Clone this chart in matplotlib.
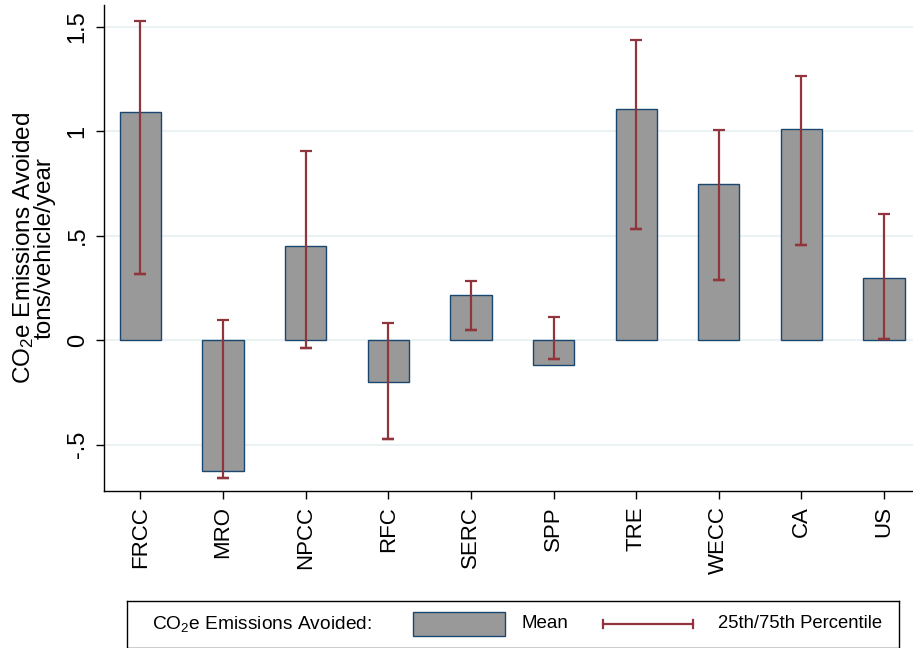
import matplotlib
matplotlib.use("Agg")
import matplotlib.pyplot as plt
from matplotlib.patches import Rectangle
from matplotlib.lines import Line2D

plt.rcParams['font.family'] = ['Liberation Sans', 'DejaVu Sans']
plt.rcParams['mathtext.fontset'] = 'custom'
plt.rcParams['mathtext.rm'] = 'Liberation Sans'
plt.rcParams['mathtext.it'] = 'Liberation Sans:italic'
plt.rcParams['mathtext.default'] = 'regular'

regions = ["FRCC", "MRO", "NPCC", "RFC", "SERC", "SPP", "TRE", "WECC", "CA", "US"]
mean_vals = [1.092, -0.628, 0.451, -0.20, 0.215, -0.12, 1.107, 0.745, 1.01, 0.295]
p25_vals = [0.316, -0.66, -0.04, -0.474, 0.048, -0.09, 0.531, 0.289, 0.455, 0.006]
p75_vals = [1.528, 0.096, 0.906, 0.081, 0.282, 0.11, 1.435, 1.006, 1.263, 0.604]
yticks = [-0.5, 0, 0.5, 1, 1.5]
yticklabels = ["-.5", "0", ".5", "1", "1.5"]

BAR = "#999999"
EDGE = "#1a476f"
ERR = "#90353b"
GRID = "#eaf2f3"

fig = plt.figure(figsize=(9.13, 6.48), dpi=100)
ax = fig.add_axes([104/913, (648-491)/648, 1-104/913, (491-5)/648])

x = list(range(len(regions)))
ax.bar(x, mean_vals, width=0.5, color=BAR, edgecolor=EDGE, linewidth=1.0, zorder=2)
span = [p75 - p25 for p25, p75 in zip(p25_vals, p75_vals)]
ax.errorbar(x, p25_vals, yerr=[[0] * len(x), span], fmt='none', ecolor=ERR, elinewidth=1.6,
            capsize=4, capthick=1.6, zorder=3)
ax.errorbar(x, p25_vals, yerr=[[0] * len(x), [0] * len(x)], fmt='none', ecolor=ERR, elinewidth=1.6,
            capsize=4, capthick=1.6, zorder=3)

ax.set_ylim(-0.722, 1.603)
ax.set_xlim(-0.44, 9.35)
ax.set_yticks(yticks)
ax.set_yticklabels(yticklabels, rotation=90, va='center', fontsize=17)
ax.set_xticks(x)
ax.set_xticklabels(regions, rotation=90, fontsize=16)
ax.tick_params(axis='both', direction='out', length=6, width=1, color='black', pad=5)
ax.yaxis.grid(True, color=GRID, linewidth=1.5, zorder=0)
ax.set_axisbelow(True)
for s in ['top', 'right']:
    ax.spines[s].set_visible(False)
for s in ['left', 'bottom']:
    ax.spines[s].set_linewidth(1.0)
ax.set_ylabel("CO$_2$e Emissions Avoided\ntons/vehicle/year", fontsize=17.5, linespacing=0.85,
              labelpad=8)

# legend box
lax = fig.add_axes([127/913, 0.5/648, (899-127)/913, 47/648])
lax.set_xlim(0, 772)
lax.set_ylim(0, 47)
lax.set_xticks([])
lax.set_yticks([])
for s in lax.spines.values():
    s.set_linewidth(1.0)
    s.set_color('black')
lax.text(25, 23.5, "CO$_2$e Emissions Avoided:", fontsize=13.8, va='center', ha='left')
lax.add_patch(Rectangle((286, 12), 92, 24, facecolor=BAR, edgecolor=EDGE, linewidth=1.0))
lax.text(394, 23.5, "Mean", fontsize=13.5, va='center', ha='left')
lax.add_line(Line2D([476, 566], [23.5, 23.5], color=ERR, linewidth=1.6))
lax.add_line(Line2D([476, 476], [19.5, 27.5], color=ERR, linewidth=1.6))
lax.add_line(Line2D([566, 566], [19.5, 27.5], color=ERR, linewidth=1.6))
lax.text(591, 23.5, "25th/75th Percentile", fontsize=13.3, va='center', ha='left')

fig.savefig("out.png", dpi=100)
